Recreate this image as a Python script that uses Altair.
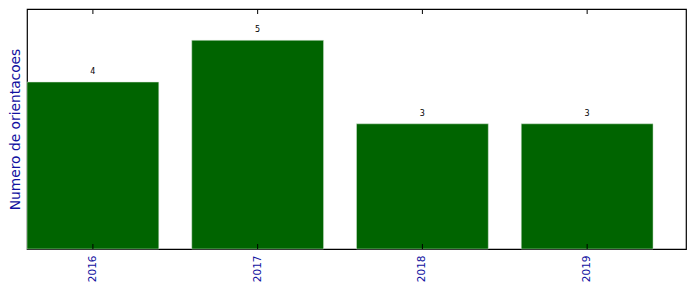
import json
import altair as alt
import pandas as pd

years = ["2016", "2017", "2018", "2019"]
counts = [4, 5, 3, 3]

df = pd.DataFrame({"year": years, "count": counts})

BLUE = "#1010a0"
FONT = "DejaVu Sans"

xscale = alt.Scale(domain=years, paddingInner=0.2, paddingOuter=0.1, align=0)
yscale = alt.Scale(domain=[0, 5.75], nice=False, zero=True)

base = alt.Chart(df)

bars = base.mark_bar(color="#006400", stroke="#d8e8d8", strokeWidth=0.5).encode(
    x=alt.X("year:N", scale=xscale, sort=years,
            axis=alt.Axis(title=None, labelAngle=270, labelColor=BLUE, labelFont=FONT,
                          labelFontSize=10.5, ticks=False, domain=False, labelPadding=6,
                          grid=False)),
    y=alt.Y("count:Q", scale=yscale,
            axis=alt.Axis(title="Numero de orientacoes", titleColor=BLUE, titleFont=FONT,
                          titleFontSize=13.8, titleFontWeight="normal", labels=False,
                          ticks=False, domain=False, grid=False, titlePadding=5)),
)

labels = base.mark_text(fontSize=8, font=FONT, color="#000000", baseline="bottom", dy=-6).encode(
    x=alt.X("year:N", scale=xscale, sort=years),
    y=alt.Y("count:Q", scale=yscale),
    text=alt.Text("count:Q"),
)

bottom_ticks = base.mark_rule(color="#000000", strokeWidth=1).encode(
    x=alt.X("year:N", scale=xscale, sort=years),
    y=alt.value(240),
    y2=alt.value(235),
)
top_ticks = base.mark_rule(color="#000000", strokeWidth=1).encode(
    x=alt.X("year:N", scale=xscale, sort=years),
    y=alt.value(0),
    y2=alt.value(5),
)

chart = alt.layer(bars, labels, bottom_ticks, top_ticks).properties(
    width=659, height=240,
    padding={"left": 27, "top": 9, "right": 10, "bottom": 43},
    autosize=alt.AutoSizeParams(type="none"),
    background="white",
).configure_view(stroke="#000000", strokeWidth=1.2)

chart.save("out.html", embed_options={"renderer": "svg", "actions": False})
